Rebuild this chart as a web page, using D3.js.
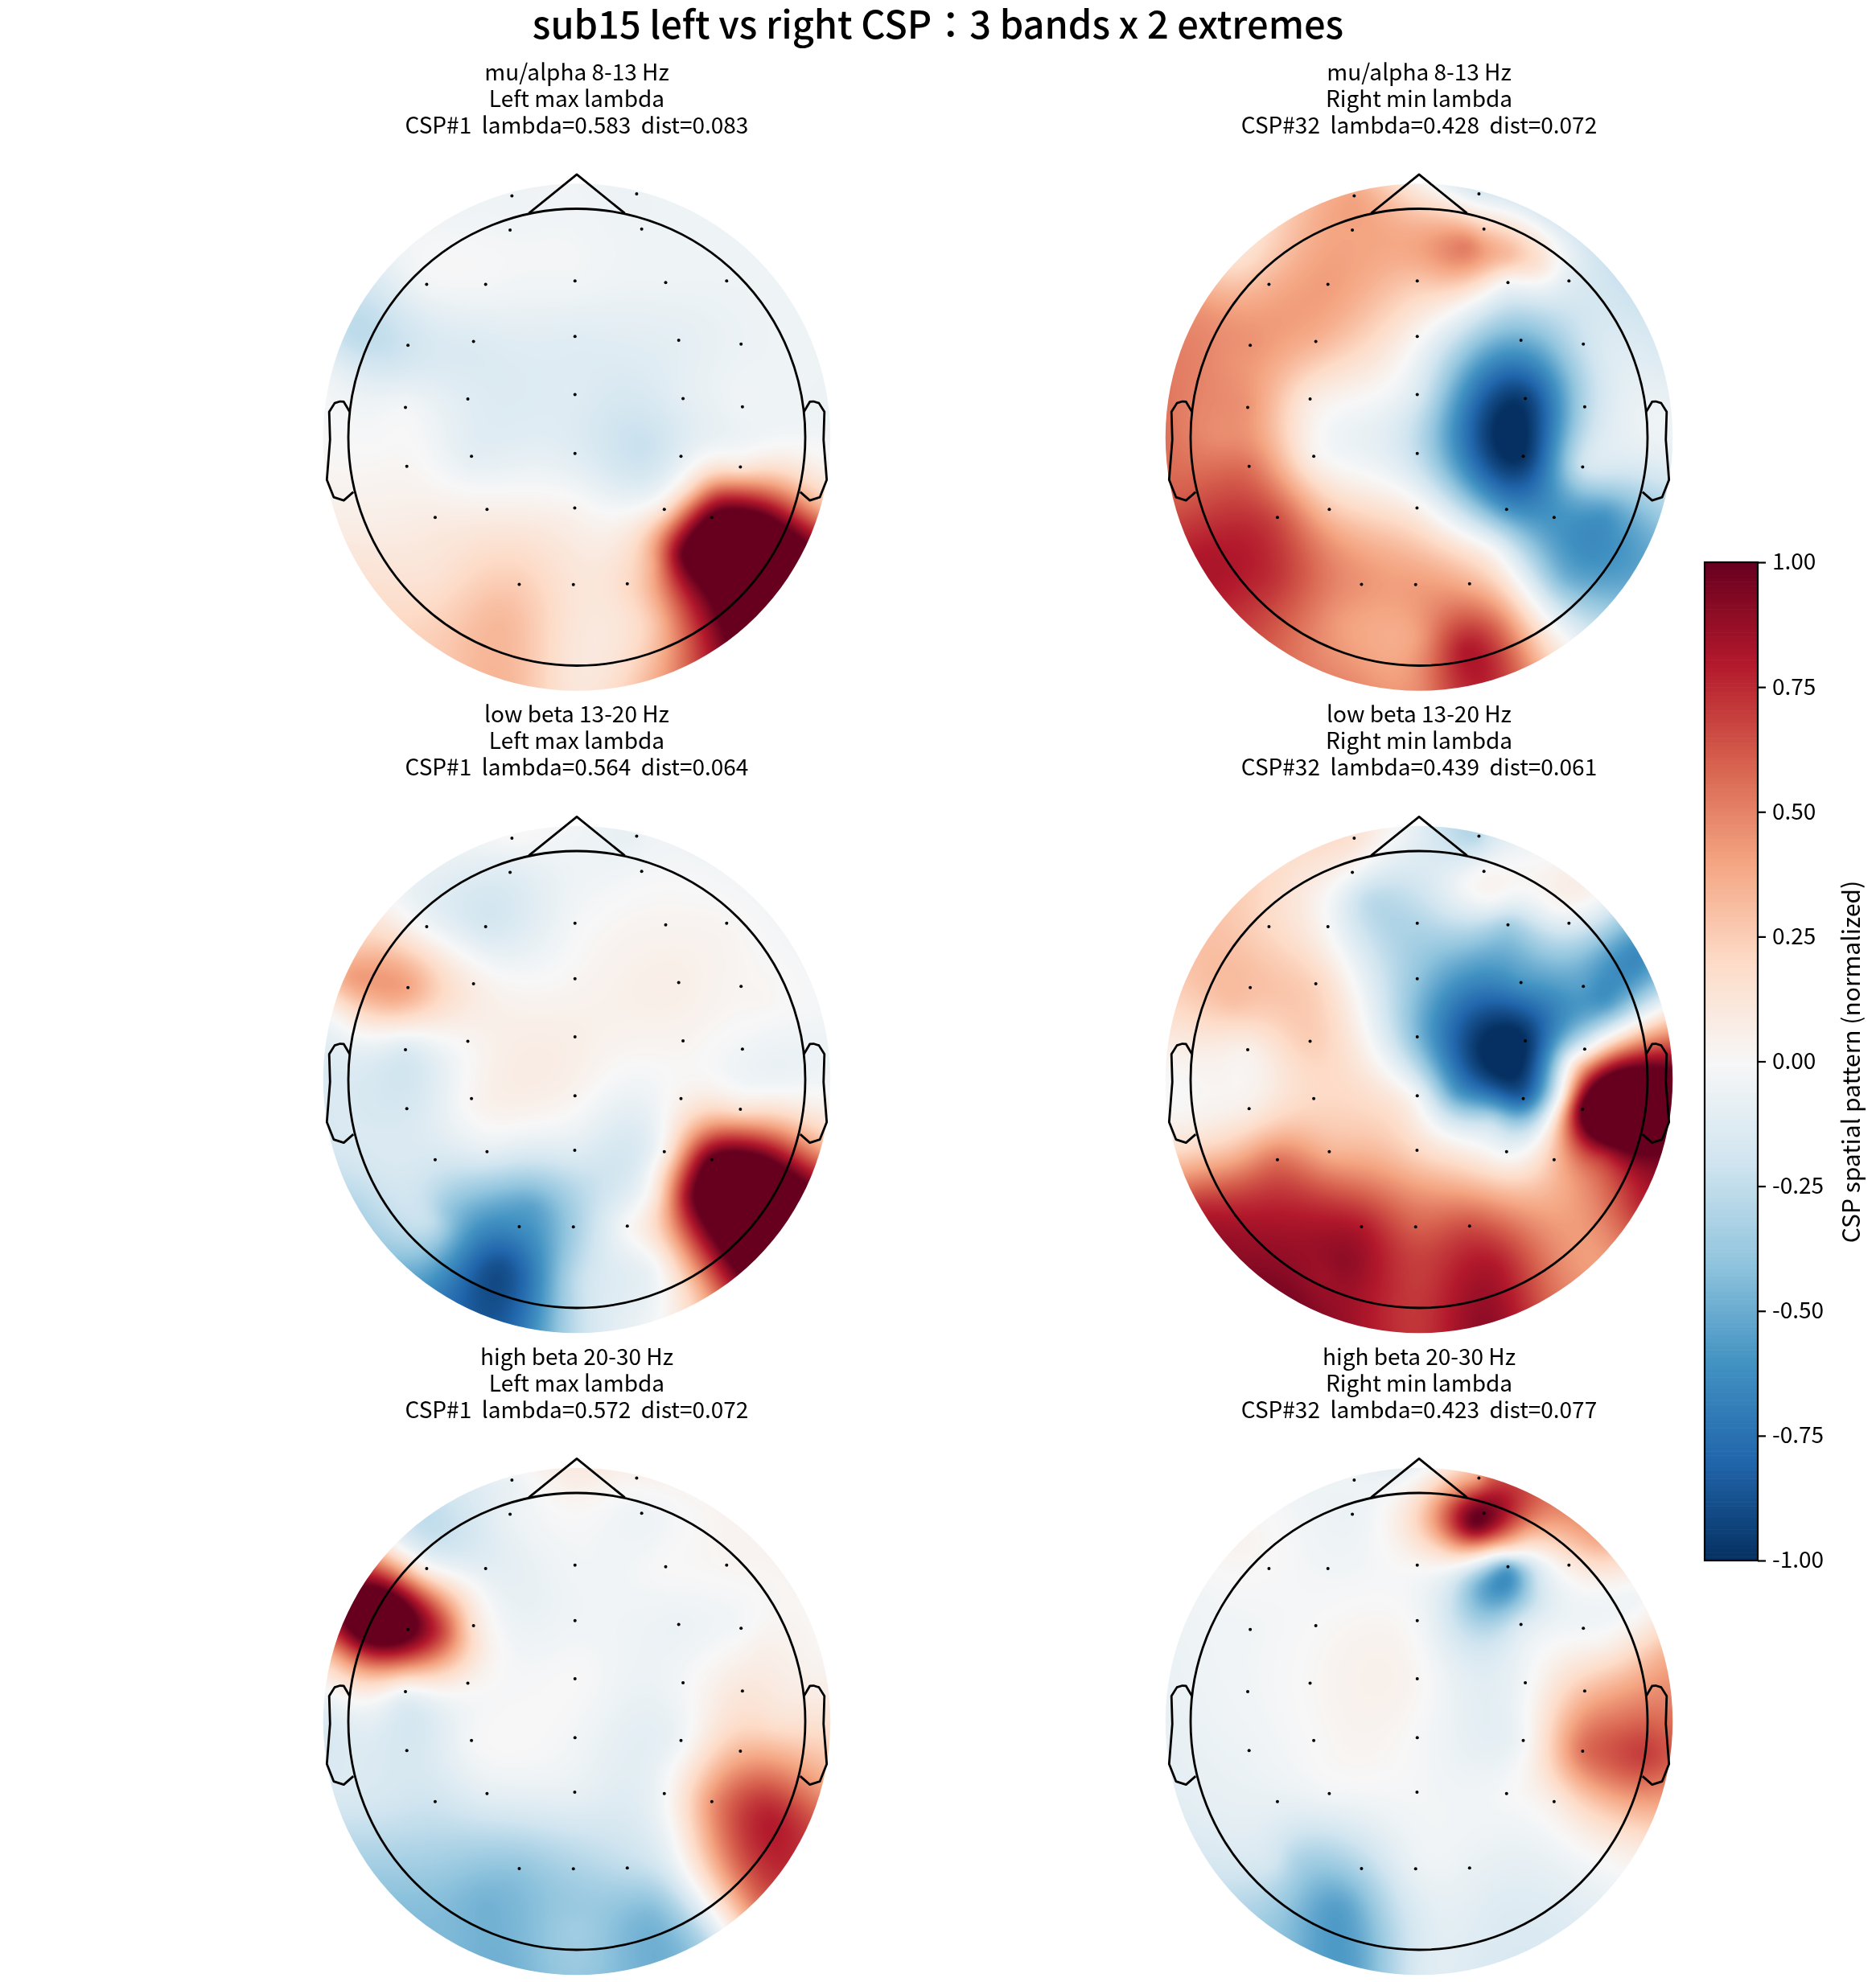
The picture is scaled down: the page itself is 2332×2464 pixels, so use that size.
<!DOCTYPE html>
<html>
<head>
<meta charset="utf-8">
<script src="https://cdn.jsdelivr.net/npm/d3@7"></script>
<style>
html,body{margin:0;padding:0;background:#fff;}
#fig{position:relative;width:2332px;height:2464px;overflow:hidden;}
#fig canvas,#fig svg{position:absolute;left:0;top:0;}
text{font-family:"Noto Sans CJK TC","Noto Sans",sans-serif;fill:#000;}
</style>
</head>
<body>
<div id="fig"></div>
<script>
// Electrode layout in head units (head radius = 1)
const sensorX = [-.284,.262,-.292,.284,-.657,-.399,-.008,.389,.656,-.739,-.452,-.008,.446,.719,-.75,-.477,-.008,.465,.725,-.744,-.461,-.008,.456,.716,-.62,-.393,-.009,.383,.591,-.252,-.015,.221];
const sensorY = [1.056,1.065,.907,.911,.669,.669,.684,.677,.684,.402,.419,.441,.424,.408,.13,.167,.187,.169,.133,-.128,-.084,-.071,-.084,-.13,-.351,-.316,-.31,-.316,-.351,-.644,-.645,-.642];

// Polar anchors used outside the electrode cloud (degrees)
const rimAngles = d3.range(0, 360, 15);
const innerAngles = [0,22.5,157.5,180,202.5,225,247.5,270,292.5,315,337.5];
const rimRadius = 1.11, innerRadius = 0.88;

// Pattern values per panel: at electrodes, along the rim, on the inner ring, plus local extrema [x, y, value]
const muLeftSensors = [-.05,-.06,-.03,-.05,-.03,-.02,-.03,-.05,-.05,-.2,-.14,-.12,-.1,-.06,-.02,-.12,-.13,-.1,-.04,.02,-.1,-.12,-.1,.12,.08,.06,.03,.15,1.05,.25,.13,.2];
const muLeftRim = [-.03,-.05,-.05,-.05,-.05,-.05,-.04,-.04,-.04,-.05,-.25,-.07,0,.05,.13,.2,.28,.33,.12,.3,.75,1.3,1.3,.3];
const muLeftInner = [-.02,-.05,-.2,-.01,.06,.15,.33,.12,.28,1.2,1];
const muLeftPeaks = [[.72,-.51,1.5],[.23,-.32,0],[.31,-.04,-.22],[.46,-.51,1],[.34,-.56,.4],[.49,-.23,.2],[.61,-.25,.65],[-.98,.42,-.25]];

const muRightSensors = [.4,-.15,.4,.25,.35,.42,.28,-.02,-.12,.45,.35,.02,-.5,-.22,.45,.1,-.15,-.95,-.3,.55,.05,-.25,-1,-.2,.65,.28,.05,-.6,-.6,.45,.42,.35];
const muRightRim = [-.05,-.12,-.2,-.2,-.15,-.15,.05,.38,.28,.15,.45,.52,.55,.62,.82,.72,.55,.48,.48,.78,.25,-.3,-.55,-.3];
const muRightInner = [-.1,-.15,.45,.47,.72,.72,.42,.42,.55,-.45,-.6];
const muRightPeaks = [[.195,-.93,.8],[.21,.84,.52],[.39,.79,.32],[.52,.75,.15],[.41,.04,-1.05],[.85,-.42,-.6],[.32,-.49,0]];

const lowLeftSensors = [0,-.08,-.12,-.02,-.03,-.17,-.02,.03,.02,.4,.08,.02,.06,.02,-.15,.02,.06,.03,-.03,-.17,.02,.03,.05,.15,-.17,-.1,-.12,.05,1.05,-.62,-.35,0];
const lowLeftRim = [-.03,-.02,-.02,-.02,-.03,-.05,-.03,0,-.07,-.02,.3,.02,-.15,-.17,-.3,-.42,-.75,-.8,-.25,-.05,.35,1.3,1.3,.35];
const lowLeftInner = [-.05,.02,.35,-.17,-.15,-.25,-.88,-.25,-.03,1.2,1];
const lowLeftPeaks = [[.72,-.51,1.5],[.49,-.51,.9],[.34,-.51,.1],[-.39,-.84,-.88],[-.99,.45,.42],[.19,-.25,-.15],[.61,-.25,.65],[-.58,-.58,-.38],[-.24,-.87,-.8],[-.2,-.56,-.55]];

const lowRightSensors = [.15,-.3,0,0,.2,0,-.3,-.35,-.12,.3,.22,-.4,-.6,-.55,.05,.25,-.45,-1,-.05,.07,.2,-.03,-.8,1.05,.55,.35,.2,-.05,.3,.8,.6,.65];
const lowRightRim = [1.1,.1,-.65,-.02,0,-.2,-.1,.15,.17,.25,.3,.18,0,.15,.75,.9,.95,.85,.72,.9,.6,.42,.75,1.05];
const lowRightInner = [1.2,-.6,.3,.03,.35,.82,.9,.7,.8,.42,.75];
const lowRightPeaks = [[.82,-.14,1.5],[.62,-.07,0],[.68,.08,.1],[-.42,-.86,.85],[.32,.78,-.02],[.2,.85,-.02],[.6,.75,0],[-.23,.8,-.25],[.165,-.07,-.55],[.32,-.18,-.25]];

const highLeftSensors = [-.08,.03,-.06,-.05,.05,-.1,-.03,0,.02,1.1,.15,-.04,-.06,-.02,-.05,.04,0,-.02,.12,-.17,-.02,-.03,-.04,.33,-.2,-.1,-.08,-.02,.45,-.4,-.32,-.25];
const highLeftRim = [.15,.02,.02,.03,.02,.05,.1,-.02,-.2,-.05,1.1,.35,-.15,-.15,-.3,-.42,-.45,-.48,-.38,-.48,-.3,.55,.75,.42];
const highLeftInner = [.15,.05,1,-.1,-.18,-.35,-.47,-.35,-.42,.4,.7];
const highLeftPeaks = [[.87,-.42,.78],[-.88,.46,1.4],[-.58,.39,.65],[.42,-.48,0],[0,-.85,-.38],[-.39,-.8,-.48]];

const highRightSensors = [-.05,.4,-.06,1,0,-.03,.02,-.55,.08,-.03,0,-.02,-.15,-.03,-.03,.01,.02,-.03,.3,-.05,0,-.01,-.03,.55,-.08,-.03,-.02,-.01,.08,-.3,-.07,-.07];
const highRightRim = [.55,.35,-.03,.38,.55,.55,-.05,-.05,-.03,.03,-.03,-.06,-.08,-.1,-.15,-.28,-.45,-.55,-.15,-.15,-.15,-.08,.1,.5];
const highRightInner = [.55,.05,-.03,-.05,-.08,-.2,-.55,-.15,-.13,-.06,.35];
const highRightPeaks = [[.38,.59,-.62],[.24,.86,1],[.4,.73,0],[.47,.82,.35],[.09,.75,.2],[.82,-.12,.62],[.99,-.15,.7],[.13,.55,-.18],[.24,.6,-.42],[.52,.6,-.2],[-.4,-.82,-.55],[-.14,-.84,-.3],[-.55,-.6,-.3]];

// Panel captions
const bandNames = ["mu/alpha 8-13 Hz","low beta 13-20 Hz","high beta 20-30 Hz"];
const extremeNames = ["Left max lambda","Right min lambda"];
const cspLines = [
  ["CSP#1  lambda=0.583  dist=0.083","CSP#32  lambda=0.428  dist=0.072"],
  ["CSP#1  lambda=0.564  dist=0.064","CSP#32  lambda=0.439  dist=0.061"],
  ["CSP#1  lambda=0.572  dist=0.072","CSP#32  lambda=0.423  dist=0.077"]
];
const panelValues = [
  [[muLeftSensors,muLeftRim,muLeftInner,muLeftPeaks],[muRightSensors,muRightRim,muRightInner,muRightPeaks]],
  [[lowLeftSensors,lowLeftRim,lowLeftInner,lowLeftPeaks],[lowRightSensors,lowRightRim,lowRightInner,lowRightPeaks]],
  [[highLeftSensors,highLeftRim,highLeftInner,highLeftPeaks],[highRightSensors,highRightRim,highRightInner,highRightPeaks]]
];

// Head outline in head units
const noseX = [-.21,0,.21], noseY = [.98,1.15,.98];
const earX = [.497,.510,.518,.5299,.5419,.54,.547,.532,.510,.489].map(d=>d*2);
const earY = [.0555,.0775,.0783,.0746,.0555,-.0055,-.0932,-.1313,-.1384,-.1199].map(d=>d*2);

const colorTicks = [-1,-.75,-.5,-.25,0,.25,.5,.75,1];
const rdbuStops = ["#053061","#2166ac","#4393c3","#92c5de","#d1e5f0","#f7f7f7","#fddbc7","#f4a582","#d6604d","#b2182b","#67001f"];

const headR = 284;
const colCenters = [717, 1764];
const rowCenters = [543.5, 1342, 2140];
const rowCaptionTop = [90, 888, 1687];
const lineGap = 33;

const color = d3.scaleLinear().domain(d3.range(11).map(i=>-1+i*.2)).range(rdbuStops).interpolate(d3.interpolateRgb).clamp(true);
const lut = d3.range(512).map(i=>d3.rgb(color(-1+2*i/511)));

const fig = d3.select("#fig");
const canvasSel = fig.append("canvas").attr("width",2332).attr("height",2464);
const ctx = canvasSel.node().getContext("2d");
const svg = fig.append("svg").attr("width",2332).attr("height",2464);

// Thin-plate spline through the sampled pattern values
function fitSurface(xs, ys, vs, lambda){
  const n = xs.length, m = n+3;
  const A = d3.range(m).map(()=>new Float64Array(m+1));
  for(let i=0;i<n;i++){
    for(let j=0;j<n;j++){
      const r2=(xs[i]-xs[j])**2+(ys[i]-ys[j])**2;
      A[i][j]= r2>0 ? .5*r2*Math.log(r2) : lambda;
    }
    A[i][n]=1;A[i][n+1]=xs[i];A[i][n+2]=ys[i];
    A[n][i]=1;A[n+1][i]=xs[i];A[n+2][i]=ys[i];
    A[i][m]=vs[i];
  }
  for(let c=0;c<m;c++){
    let p=c;
    for(let r=c+1;r<m;r++) if(Math.abs(A[r][c])>Math.abs(A[p][c])) p=r;
    [A[c],A[p]]=[A[p],A[c]];
    for(let r=0;r<m;r++){
      if(r===c) continue;
      const f=A[r][c]/A[c][c];
      if(f===0) continue;
      for(let k=c;k<=m;k++) A[r][k]-=f*A[c][k];
    }
  }
  const w=d3.range(m).map(i=>A[i][m]/A[i][i]);
  return (x,y)=>{
    let s=w[n]+w[n+1]*x+w[n+2]*y;
    for(let i=0;i<n;i++){
      const r2=(x-xs[i])**2+(y-ys[i])**2;
      if(r2>0) s+=w[i]*.5*r2*Math.log(r2);
    }
    return s;
  };
}

function drawField(values, px, py){
  const [sensorV, rimV, innerV, peaks] = values;
  const xs=[...sensorX], ys=[...sensorY], vs=[...sensorV];
  rimAngles.forEach((a,i)=>{const t=a*Math.PI/180;xs.push(rimRadius*Math.cos(t));ys.push(rimRadius*Math.sin(t));vs.push(rimV[i]);});
  innerAngles.forEach((a,i)=>{const t=a*Math.PI/180;xs.push(innerRadius*Math.cos(t));ys.push(innerRadius*Math.sin(t));vs.push(innerV[i]);});
  peaks.forEach(p=>{xs.push(p[0]);ys.push(p[1]);vs.push(p[2]);});
  const f=fitSurface(xs,ys,vs,.002);
  const step=2, x0=px(-1.13), y0=py(1.13), size=Math.ceil((px(1.13)-px(-1.13))/step);
  const off=document.createElement("canvas");off.width=size;off.height=size;
  const oc=off.getContext("2d"), img=oc.createImageData(size,size);
  for(let j=0;j<size;j++)for(let i=0;i<size;i++){
    const v=f(px.invert(x0+(i+.5)*step),py.invert(y0+(j+.5)*step));
    const c=lut[Math.max(0,Math.min(511,Math.round((v+1)/2*511)))];
    const o=(j*size+i)*4;
    img.data[o]=c.r;img.data[o+1]=c.g;img.data[o+2]=c.b;img.data[o+3]=255;
  }
  oc.putImageData(img,0,0);
  ctx.save();
  ctx.beginPath();
  ctx.arc(px(0),py(0),rimRadius*(px(1)-px(0)),0,2*Math.PI);
  ctx.clip();
  ctx.imageSmoothingEnabled=true;ctx.imageSmoothingQuality="high";
  ctx.drawImage(off,x0,y0,size*step,size*step);
  ctx.restore();
}

const outline=d3.line();
panelValues.forEach((row,ri)=>row.forEach((values,ci)=>{
  const px=d3.scaleLinear().domain([-1,1]).range([colCenters[ci]-headR,colCenters[ci]+headR]);
  const py=d3.scaleLinear().domain([-1,1]).range([rowCenters[ri]+headR,rowCenters[ri]-headR]);
  drawField(values,px,py);
  const g=svg.append("g");
  [bandNames[ri],extremeNames[ci],cspLines[ri][ci]].forEach((t,i)=>{
    g.append("text").attr("x",px(0)).attr("y",rowCaptionTop[ri]+i*lineGap).attr("dy",".36em")
      .attr("text-anchor","middle").style("font-size","28px").style("white-space","pre").text(t);
  });
  g.append("g").selectAll("circle").data(sensorX).join("circle")
    .attr("cx",d=>px(d)).attr("cy",(d,i)=>py(sensorY[i])).attr("r",2).attr("fill","#000");
  const stroke=s=>s.attr("fill","none").attr("stroke","#000").attr("stroke-width",2.8).attr("stroke-linejoin","round");
  g.append("circle").attr("cx",px(0)).attr("cy",py(0)).attr("r",headR).call(stroke);
  g.append("path").attr("d",outline(noseX.map((d,i)=>[px(d),py(noseY[i])]))).call(stroke);
  g.append("path").attr("d",outline(earX.map((d,i)=>[px(d),py(earY[i])]))).call(stroke);
  g.append("path").attr("d",outline(earX.map((d,i)=>[px(-d),py(earY[i])]))).call(stroke);
}));

svg.append("text").attr("x",1166).attr("y",31).attr("dy",".36em").attr("text-anchor","middle")
  .style("font-size","47px").style("font-weight","500").text("sub15 left vs right CSP：3 bands x 2 extremes");

// Colour bar
const barX=2119, barW=66, barTop=699, barBottom=1940;
const barScale=d3.scaleLinear().domain([-1,1]).range([barBottom,barTop]);
const cb=svg.append("g");
cb.selectAll("rect").data(d3.range(256)).join("rect")
  .attr("x",barX).attr("width",barW)
  .attr("y",d=>barScale(-1+(d+1)/128)).attr("height",(barBottom-barTop)/256+.6)
  .attr("fill",d=>color(-1+(d+.5)/128));
cb.append("rect").attr("x",barX).attr("y",barTop).attr("width",barW).attr("height",barBottom-barTop)
  .attr("fill","none").attr("stroke","#000").attr("stroke-width",2.2);
const axis=d3.axisRight(barScale).tickValues(colorTicks).tickFormat(d3.format(".2f")).tickSize(10).tickPadding(8);
const ax=cb.append("g").attr("transform",`translate(${barX+barW},0)`).call(axis);
ax.select(".domain").remove();
ax.selectAll("line").attr("stroke","#000").attr("stroke-width",2.2);
ax.selectAll("text").style("font-size","28px").text(d=>d3.format(".2f")(d).replace("−","-"));
cb.append("text").attr("transform","translate(2301,1320) rotate(-90)").attr("text-anchor","middle").attr("dy",".36em")
  .style("font-size","30px").text("CSP spatial pattern (normalized)");
</script>
</body>
</html>
